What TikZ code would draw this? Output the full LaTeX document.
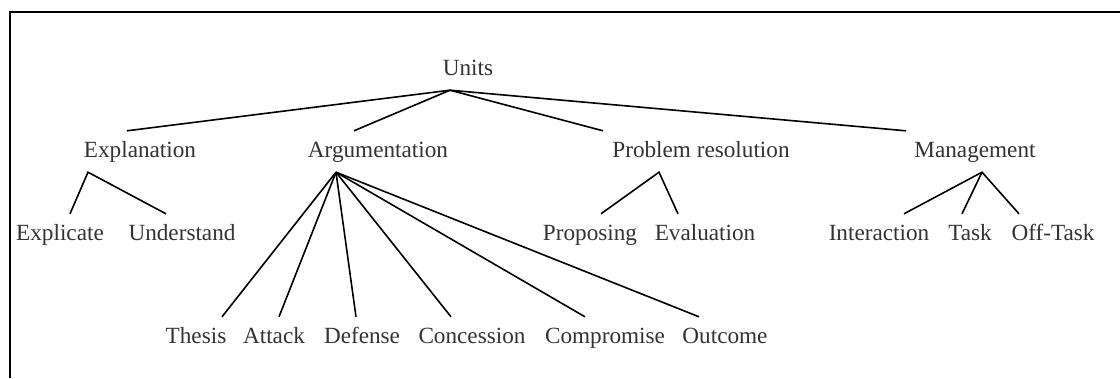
\documentclass[tikz,border=0pt]{standalone}
\usepackage{fontspec}
\setmainfont{Liberation Serif}
\tikzstyle{mot} = [anchor=base, inner xsep=0pt, inner ysep=10pt, text height=16pt, text depth=5pt, text=black!80, font=\fontsize{23.2}{28}\selectfont]
\tikzstyle{trait} = [line width=1.6pt]

\begin{document}
\begin{tikzpicture}[x=1pt,y=-1pt]
                \useasboundingbox (0,0) rectangle (1120,378);
                \draw[line width=2pt] (10,378) -- (10,12) -- (1120,12);

                % racine
                \node [mot] (units) at (468,75) {Units};

                % niveau 1
                \node [mot] (explanation) at (140,157) {Explanation};
                \node [mot] (argumentation) at (378,157) {Argumentation};
                \node [mot] (problem) at (701,157) {Problem resolution};
                \node [mot] (management) at (975,157) {Management};

                % niveau 2
                \node [mot] (explicate) at (60,240) {Explicate};
                \node [mot] (understand) at (182,240) {Understand};
                \node [mot] (proposing) at (590,240) {Proposing};
                \node [mot] (evaluation) at (705,240) {Evaluation};
                \node [mot] (interaction) at (879,240) {Interaction};
                \node [mot] (task) at (970,240) {Task};
                \node [mot] (offtask) at (1053,240) {Off-Task};

                % niveau 3
                \node [mot] (thesis) at (196,343) {Thesis};
                \node [mot] (attack) at (274,343) {Attack};
                \node [mot] (defense) at (362,343) {Defense};
                \node [mot] (concession) at (472,343) {Concession};
                \node [mot] (compromise) at (605,343) {Compromise};
                \node [mot] (outcome) at (725,343) {Outcome};

                \draw[trait] ([xshift=-18pt]units.south) -- ([xshift=-13pt]explanation.north);
                \draw[trait] ([xshift=-18pt]units.south) -- ([xshift=-24pt]argumentation.north);
                \draw[trait] ([xshift=-18pt]units.south) -- ([xshift=-98pt]problem.north);
                \draw[trait] ([xshift=-18pt]units.south) -- ([xshift=-69pt]management.north);

                \draw[trait] ([xshift=10pt]explicate.north) -- ([xshift=-52pt]explanation.south) -- ([xshift=-16pt]understand.north);
                \draw[trait] ([xshift=11pt]proposing.north) -- ([xshift=-42pt]problem.south) -- ([xshift=-27pt]evaluation.north);
                \draw[trait] ([xshift=25pt]interaction.north) -- ([xshift=7pt]management.south) -- ([xshift=-34pt]offtask.north);
                \draw[trait] ([xshift=7pt]management.south) -- ([xshift=-8pt]task.north);

                \draw[trait] ([xshift=-42pt]argumentation.south) -- ([xshift=26pt]thesis.north);
                \draw[trait] ([xshift=-42pt]argumentation.south) -- ([xshift=5pt]attack.north);
                \draw[trait] ([xshift=-42pt]argumentation.south) -- ([xshift=-6pt]defense.north);
                \draw[trait] ([xshift=-42pt]argumentation.south) -- ([xshift=-21pt]concession.north);
                \draw[trait] ([xshift=-42pt]argumentation.south) -- ([xshift=-20pt]compromise.north);
                \draw[trait] ([xshift=-42pt]argumentation.south) -- ([xshift=-26pt]outcome.north);
            \end{tikzpicture}
\end{document}
